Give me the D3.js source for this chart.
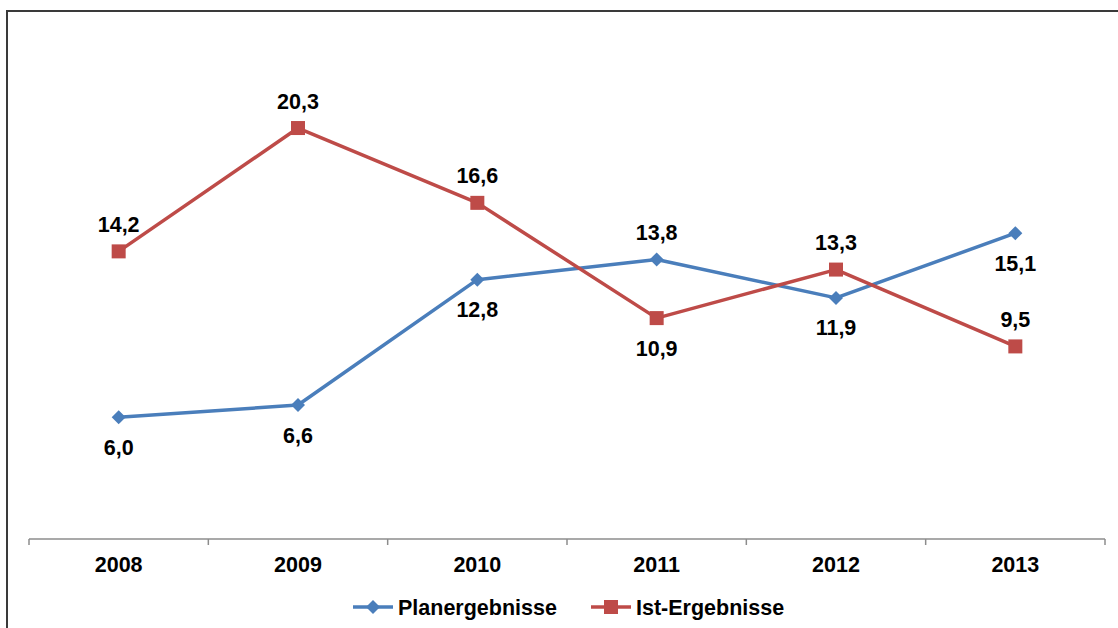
<!DOCTYPE html>
<html>
<head>
<meta charset="utf-8">
<script src="https://cdn.jsdelivr.net/npm/d3@7"></script>
<style>
  html, body { margin: 0; padding: 0; background: #fff; }
  svg { display: block; }
  text { font-family: "Liberation Sans", Arial, sans-serif; font-weight: bold; fill: #000; }
</style>
</head>
<body>
<svg id="chart" width="1118" height="628"></svg>
<script>
// Jahre und Ergebnisse
const years = ["2008", "2009", "2010", "2011", "2012", "2013"];
const planValues = [6.0, 6.6, 12.8, 13.8, 11.9, 15.1];
const istValues = [14.2, 20.3, 16.6, 10.9, 13.3, 9.5];
const seriesNames = ["Planergebnisse", "Ist-Ergebnisse"];
// label side for each point: "a" above, "b" below
const planLabelSide = ["b", "b", "b", "a", "b", "b"];
const istLabelSide = ["a", "a", "a", "b", "a", "a"];

const svg = d3.select("#chart");
const W = 1118, H = 628;
const blue = "#4A7EBB", red = "#BE4B48";
const FS = 21.5;

// outer frame (top and left edges)
svg.append("path")
  .attr("d", `M7,${H} V11 H${W}`)
  .attr("fill", "none").attr("stroke", "#3a3a3a").attr("stroke-width", 2);

const x = d3.scaleBand().domain(years).range([29, 1105]).paddingInner(0).paddingOuter(0);
const y = d3.scaleLinear().domain([0, 25]).range([538.5, 33]);
const cx = d => x(d) + x.bandwidth() / 2;

// category axis
const axisG = svg.append("g").attr("transform", "translate(0,539)");
axisG.append("line").attr("x1", 29).attr("x2", 1105).attr("y1", 0).attr("y2", 0)
  .attr("stroke", "#8c8c8c").attr("stroke-width", 1.5);
const tickPos = years.map(d => x(d)).concat([x(years[years.length - 1]) + x.bandwidth()]);
axisG.selectAll("line.tick").data(tickPos).join("line").attr("class", "tick")
  .attr("x1", d => d).attr("x2", d => d).attr("y1", 0).attr("y2", 6)
  .attr("stroke", "#8c8c8c").attr("stroke-width", 1.5);
svg.selectAll("text.year").data(years).join("text").attr("class", "year")
  .attr("x", d => cx(d)).attr("y", 572).attr("text-anchor", "middle")
  .attr("font-size", FS).text(d => d);

const line = d3.line().x((d, i) => cx(years[i])).y(d => y(d));
const fmt = v => d3.format(".1f")(v).replace(".", ",");
const diamond = d3.symbol().type(d3.symbolDiamond2).size(125);

function drawSeries(values, color, marker, sides) {
  const g = svg.append("g");
  g.append("path").datum(values).attr("d", line)
    .attr("fill", "none").attr("stroke", color).attr("stroke-width", 3.5)
    .attr("stroke-linejoin", "round");
  if (marker === "diamond") {
    g.selectAll("path.m").data(values).join("path").attr("class", "m")
      .attr("d", diamond)
      .attr("transform", (d, i) => `translate(${cx(years[i])},${y(d)})`)
      .attr("fill", color);
  } else {
    g.selectAll("rect.m").data(values).join("rect").attr("class", "m")
      .attr("x", (d, i) => cx(years[i]) - 7).attr("y", d => y(d) - 7)
      .attr("width", 14).attr("height", 14).attr("fill", color);
  }
  g.selectAll("text.lbl").data(values).join("text").attr("class", "lbl")
    .attr("x", (d, i) => cx(years[i]))
    .attr("y", (d, i) => sides[i] === "a" ? y(d) - 19.5 : y(d) + 37.5)
    .attr("text-anchor", "middle").attr("font-size", FS)
    .text(d => fmt(d));
}

drawSeries(planValues, blue, "diamond", planLabelSide);
drawSeries(istValues, red, "square", istLabelSide);

// legend
const legend = [
  { name: seriesNames[0], color: blue, marker: "diamond", x0: 353 },
  { name: seriesNames[1], color: red, marker: "square", x0: 591 }
];
const lg = svg.append("g");
legend.forEach(l => {
  lg.append("line").attr("x1", l.x0).attr("x2", l.x0 + 40).attr("y1", 607).attr("y2", 607)
    .attr("stroke", l.color).attr("stroke-width", 3.5);
  if (l.marker === "diamond") {
    lg.append("path").attr("d", diamond)
      .attr("transform", `translate(${l.x0 + 20},607)`).attr("fill", l.color);
  } else {
    lg.append("rect").attr("x", l.x0 + 13).attr("y", 600).attr("width", 14).attr("height", 14)
      .attr("fill", l.color);
  }
  lg.append("text").attr("x", l.x0 + 45).attr("y", 615).attr("font-size", FS).text(l.name);
});
</script>
</body>
</html>
